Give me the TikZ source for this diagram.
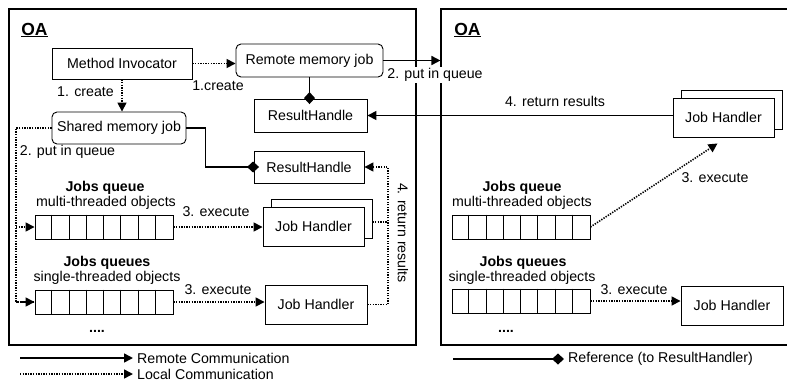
\documentclass[tikz,border=0pt]{standalone}
\usepackage{fontspec}
\setmainfont{Liberation Sans}
\usetikzlibrary{arrows.meta,calc}
\begin{document}
\begin{tikzpicture}[x=1pt,y=-1pt,
  font=\fontsize{14.2}{17}\selectfont,
  box/.style={draw, line width=0.9pt, fill=white, inner sep=0pt, minimum width=#1},
  box/.default=101pt,
  rbox/.style={box=#1, rounded corners=5pt},
  frame/.style={draw, line width=1.1pt, inner sep=0pt},
  lab/.style={inner sep=0pt},
  queue/.style={draw, line width=0.9pt, inner sep=0pt, minimum width=138pt, minimum height=24pt},
  remote/.style={line width=1.6pt, -{Triangle[length=9pt,width=9pt]}},
  local/.style={line width=1.6pt, dash pattern=on 1.3pt off 1.3pt, -{Triangle[length=9pt,width=9pt]}},
  localline/.style={line width=1.6pt, dash pattern=on 1.3pt off 1.3pt},
  refl/.style={line width=1.6pt, -{Diamond[length=12pt,width=11pt]}},
]
\useasboundingbox (0,0) rectangle (787,381);

% outer frames
\node[frame, minimum width=407pt, minimum height=336pt] (oaL) at (212.5,177) {};
\node[frame, minimum width=360pt, minimum height=336pt] (oaR) at (621,177) {};
\node[lab, font=\fontsize{17.5}{20}\selectfont\bfseries] (tL) at (34.5,30) {\underline{OA}};
\node[lab, font=\fontsize{17.5}{20}\selectfont\bfseries] (tR) at (467.5,30) {\underline{OA}};

% left side boxes
\node[box=140pt, minimum height=31pt] (mi) at (122,63.5) {Method Invocator};
\node[rbox=147pt, minimum height=33pt] (rmj) at (309.5,60.5) {Remote memory job};
\node[rbox=134pt, minimum height=32pt] (smj) at (119,128) {Shared memory job};
\node[box=113pt, minimum height=33pt] (rh1) at (310.5,115.5) {ResultHandle};
\node[box=110pt, minimum height=32pt] (rh2) at (309,167) {ResultHandle};
\node[box, minimum height=39pt] (jhmb) at (321.5,218.5) {};
\node[box, minimum height=39pt] (jhm) at (313.5,226.5) {Job Handler};
\node[box=102pt, minimum height=39pt] (jhs) at (316,304.5) {Job Handler};

% right side boxes
\node[box, minimum height=39pt] (rjhb) at (731.5,109.5) {};
\node[box, minimum height=39pt] (rjh) at (723.5,117.5) {Job Handler};
\node[box=102pt, minimum height=39pt] (rjhs) at (732,305.5) {Job Handler};

% queues
\node[queue] (q1) at (104,227) {};
\node[queue] (q2) at (104,302) {};
\node[queue] (q3) at (521,227) {};
\node[queue] (q4) at (521,301) {};
\foreach \q in {q1,q2,q3,q4}{
  \foreach \i in {1,...,7}{
    \draw[line width=0.9pt] ($(\q.north west)+(\i*17.25,0)$) -- ($(\q.south west)+(\i*17.25,0)$);
  }
}

% queue labels
\node[lab, font=\fontsize{14.2}{17}\selectfont\bfseries] (jq1) at (105,188) {Jobs queue};
\node[lab] (mt1) at (106,203) {multi-threaded objects};
\node[lab, font=\fontsize{14.2}{17}\selectfont\bfseries] (jq2) at (107,263) {Jobs queues};
\node[lab] (st2) at (107,278) {single-threaded objects};
\node[lab, font=\fontsize{14.2}{17}\selectfont\bfseries] (jq3) at (522,188) {Jobs queue};
\node[lab] (mt3) at (522,203) {multi-threaded objects};
\node[lab, font=\fontsize{14.2}{17}\selectfont\bfseries] (jq4) at (523,263) {Jobs queues};
\node[lab] (st4) at (522,278) {single-threaded objects};
\node[lab, font=\fontsize{14.2}{17}\selectfont\bfseries] (d1) at (97,331) {....};
\node[lab, font=\fontsize{14.2}{17}\selectfont\bfseries] (d2) at (506,331) {....};

% connector labels
\node[lab] (c1) at (218,86) {1.create};
\node[lab] (c2) at (85.5,92) {1. create};
\node[lab] (p1) at (67.5,152) {2. put in queue};
\node[lab] (r1) at (555,101) {4. return results};
\node[lab, rotate=-90] (r2) at (403,233) {4. return results};
\node[lab] (e1) at (216,212) {3. execute};
\node[lab] (e2) at (218,290) {3. execute};
\node[lab] (e3) at (634,290) {3. execute};
\node[lab] (e4) at (715,178) {3. execute};

% connectors
\draw[local] (mi.east) -- (mi.east -| rmj.west);
\draw[local] (mi.south) -- (mi.south |- smj.north);
\draw[refl, shorten >=-5.5pt] (rmj.south) -- (rmj.south |- rh1.north);
\draw[refl, shorten >=-5.5pt] (smj.east) -- ++(19,0) |- (rh2.west);
\draw[remote] (rmj.east) -- (rmj.east -| oaR.west);
\draw[remote] (rjh.west |- rh1.east) -- (rh1.east);
\node[lab, fill=white, inner xsep=1pt, inner ysep=1.5pt] (p2) at (435,75) {2. put in queue};
\coordinate (bus) at (16,227);
\draw[localline] (smj.west) -| (bus) |- (q2.west);
\draw[local] (bus) -- (q1.west);
\draw[local] ($(q2.west)+(-19,0)$) -- (q2.west);
\draw[local] (q1.east) -- (q1.east -| jhm.west);
\draw[local] (q2.east) -- (q2.east -| jhs.west);
\coordinate (vl) at (388,222);
\draw[local] (jhs.east) -| (vl) |- (rh2.east);
\draw[localline] ([yshift=-3.5pt]jhmb.east) -- (vl);
\coordinate (rjhtip) at ($(rjh.south)+(-6,6)$);
\draw[local] (q3.east) -- (rjhtip);
\draw[local] (q4.east) -- (q4.east -| rjhs.west);

% legend
\node[lab, anchor=west] (lg1) at (137,358) {Remote Communication};
\node[lab, anchor=west] (lg2) at (137,374) {Local Communication};
\node[lab, anchor=west] (lg3) at (568,359) {Reference (to ResultHandler)};
\coordinate (lg1s) at (20,358);
\coordinate (lg2s) at (20,374);
\coordinate (lg3s) at (453,359);
\draw[remote, shorten >=4pt] (lg1s) -- (lg1.west);
\draw[local, shorten >=4pt] (lg2s) -- (lg2.west);
\draw[refl, shorten >=4pt] (lg3s) -- (lg3.west);
\end{tikzpicture}
\end{document}
